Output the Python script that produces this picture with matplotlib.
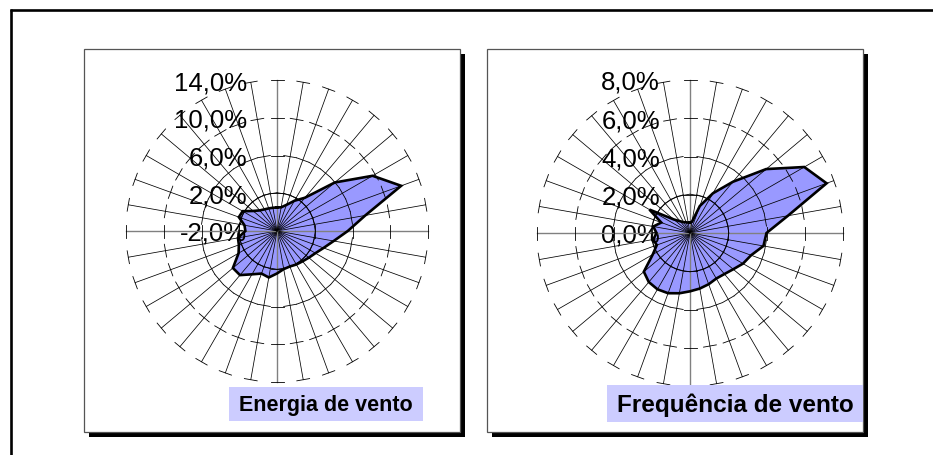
import numpy as np
import matplotlib
matplotlib.use("Agg")
import matplotlib.pyplot as plt
from matplotlib.patches import Rectangle

plt.rcParams['font.family'] = ['Liberation Sans', 'DejaVu Sans']

# 36 directions, every 10 degrees clockwise from north
direcoes = np.arange(0, 360, 10)

# energia de vento (%) por direcao
energia = [0.5, 0.55, 0.95, 1.7, 2.6, 6.0, 9.7, 12.0, 7.5, 5.5, 4.1, 3.25,
           2.7, 2.4, 2.2, 2.1, 2.0, 2.1, 2.5, 3.0, 2.8, 3.3, 4.1, 4.1,
           2.7, 2.3, 2.2, 1.35, 1.5, 2.3, 2.2, 1.3, 0.85, 0.65, 0.55, 0.5]
# frequencia de vento (%) por direcao
frequencia = [0.55, 0.6, 1.5, 2.4, 3.5, 5.2, 6.9, 7.6, 5.2, 4.0, 3.9, 3.4,
              3.2, 2.95, 2.8, 2.75, 2.85, 2.95, 3.05, 3.2, 3.35, 3.4, 3.35, 3.15,
              2.25, 1.85, 1.95, 1.75, 1.95, 1.6, 2.45, 1.1, 0.8, 0.65, 0.6, 0.55]

ticks_energia = [-2, 2, 6, 10, 14]
labels_energia = ['-2,0%', '2,0%', '6,0%', '10,0%', '14,0%']
ticks_freq = [0, 2, 4, 6, 8]
labels_freq = ['0,0%', '2,0%', '4,0%', '6,0%', '8,0%']

W, H = 933, 456
fig = plt.figure(figsize=(W / 100, H / 100), dpi=100)

# background: frame + the two chart panels with shadow
bg = fig.add_axes([0, 0, 1, 1], zorder=-1)
bg.set_xlim(0, W)
bg.set_ylim(H, 0)
bg.axis('off')
bg.plot([10, W], [11, 11], color='black', lw=1.9, solid_capstyle='butt')
bg.plot([11, 11], [10, H], color='black', lw=1.9, solid_capstyle='butt')
for x0 in (84, 487):
    bg.add_patch(Rectangle((x0 + 5, 55), 376, 383, facecolor='black', edgecolor='none'))
    bg.add_patch(Rectangle((x0, 50), 376, 383, facecolor='white', edgecolor='#555555', lw=0.9))


def radar(box, valores, ticks, labels, raio_px):
    ax = fig.add_axes([box[0] / W, 1 - box[3] / H, (box[2] - box[0]) / W, (box[3] - box[1]) / H],
                      projection='polar', zorder=1)
    rmin, rmax = ticks[0], ticks[-1]
    ax.set_theta_zero_location('N')
    ax.set_theta_direction(-1)
    ax.set_ylim(rmin, rmax)
    ax.axis('off')

    theta = np.deg2rad(direcoes)
    tc = np.append(theta, theta[0])
    vc = np.append(valores, valores[0])
    ax.fill(tc, vc, color='#9999ff', lw=0, zorder=1)
    ax.plot(tc, vc, color='black', lw=1.9, zorder=4, solid_joinstyle='miter')

    # spokes
    for d, t in zip(direcoes, theta):
        cor = '#808080' if d % 90 == 0 else 'black'
        lw = 1.0 if d % 90 == 0 else 0.55
        ax.plot([t, t], [rmin, rmax], color=cor, lw=lw, zorder=3, clip_on=False)

    # tick marks across every spoke
    h = 6.5 / (raio_px / (rmax - rmin))
    for v in ticks[1:]:
        rho = v - rmin
        dt = np.arctan(h / rho)
        rr = np.hypot(rho, h) + rmin
        for t in theta:
            ax.plot([t - dt, t + dt], [rr, rr], color='black', lw=0.6, zorder=3, clip_on=False)

    for v, lab in zip(ticks, labels):
        ax.annotate(lab, xy=(0, v), xytext=(-30, -2), textcoords='offset pixels',
                    ha='right', va='center', fontsize=18.5, annotation_clip=False, zorder=2)
    return ax


radar((126, 81, 428, 383), energia, ticks_energia, labels_energia, 151)
radar((537, 81, 843, 387), frequencia, ticks_freq, labels_freq, 153)

# title boxes on top of the charts
top = fig.add_axes([0, 0, 1, 1], zorder=5)
top.set_xlim(0, W)
top.set_ylim(H, 0)
top.axis('off')
top.add_patch(Rectangle((229, 388), 194, 34, facecolor='#ccccff', edgecolor='none'))
top.text(326, 405.5, 'Energia de vento', ha='center', va='center', fontsize=15.5, fontweight='bold')
top.add_patch(Rectangle((607, 386), 256, 37, facecolor='#ccccff', edgecolor='none'))
top.text(735, 405, 'Frequência de vento', ha='center', va='center', fontsize=17.5, fontweight='bold')

fig.savefig('out.png', dpi=100)
